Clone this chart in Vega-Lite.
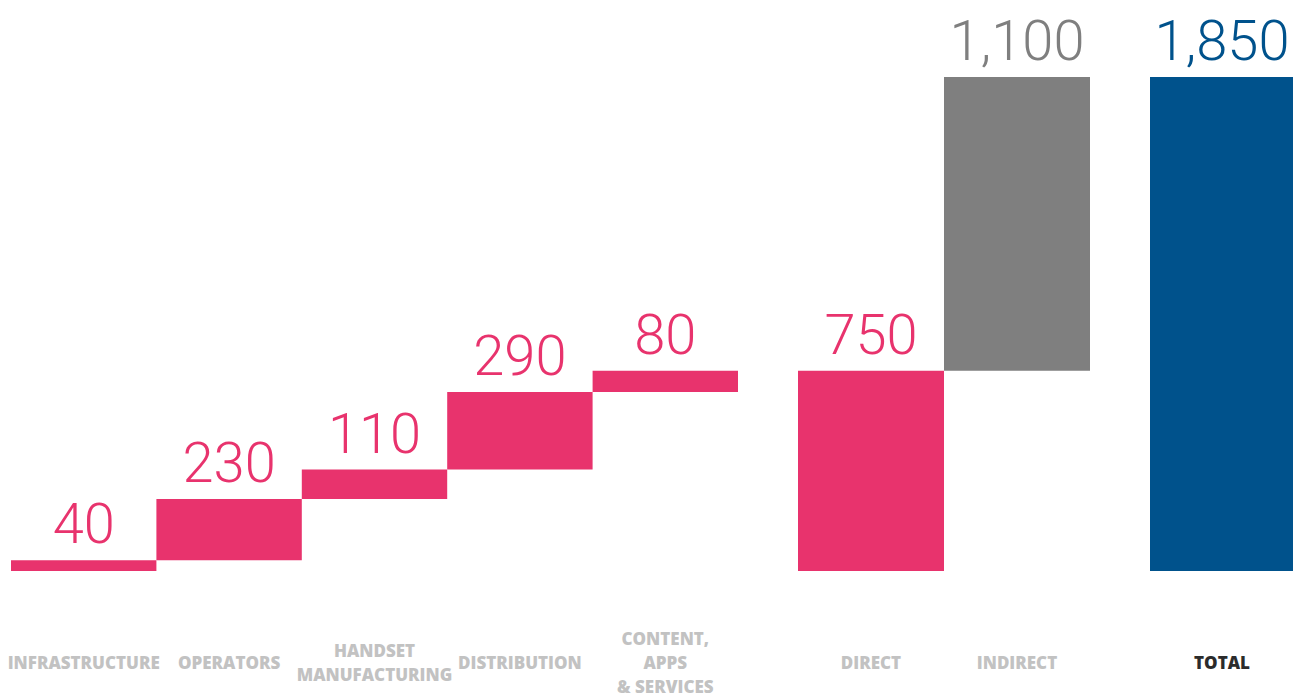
{
  "$schema": "https://vega.github.io/schema/vega-lite/v6.json",
  "padding": {"left": 7, "top": 0, "right": 0, "bottom": 0},
  "background": "white",
  "data": {
    "values": [
      {"category": "INFRASTRUCTURE", "start": 0, "end": 40, "value": 40, "kind": "direct", "group": "breakdown"},
      {"category": "OPERATORS", "start": 40, "end": 270, "value": 230, "kind": "direct", "group": "breakdown"},
      {"category": "HANDSET MANUFACTURING", "start": 270, "end": 380, "value": 110, "kind": "direct", "group": "breakdown"},
      {"category": "DISTRIBUTION", "start": 380, "end": 670, "value": 290, "kind": "direct", "group": "breakdown"},
      {"category": "CONTENT, APPS & SERVICES", "start": 670, "end": 750, "value": 80, "kind": "direct", "group": "breakdown"},
      {"category": "DIRECT", "start": 0, "end": 750, "value": 750, "kind": "direct", "group": "split"},
      {"category": "INDIRECT", "start": 750, "end": 1850, "value": 1100, "kind": "indirect", "group": "split"},
      {"category": "TOTAL", "start": 0, "end": 1850, "value": 1850, "kind": "total", "group": "total"}
    ]
  },
  "config": {
    "view": {"stroke": null},
    "concat": {"spacing": 60},
    "axisX": {
      "domain": false,
      "ticks": false,
      "tickSize": 0,
      "grid": false,
      "title": null,
      "labelAngle": 0,
      "labelFont": "Open Sans",
      "labelFontWeight": 800,
      "labelFontSize": 17,
      "labelBaseline": "middle",
      "labelPadding": {"condition": [{"test": "datum.label == 'CONTENT, APPS & SERVICES'", "value": 68}, {"test": "datum.label == 'HANDSET MANUFACTURING'", "value": 80}], "value": 92},
      "labelLineHeight": 24,
      "labelLimit": 300,
      "labelColor": {"condition": {"test": "datum.label == 'TOTAL'", "value": "#2b2b2b"}, "value": "#c2c2c2"},
      "labelExpr": "datum.label == 'CONTENT, APPS & SERVICES' ? ['CONTENT,', 'APPS', '& SERVICES'] : datum.label == 'HANDSET MANUFACTURING' ? ['HANDSET', 'MANUFACTURING'] : datum.label"
    }
  },
  "hconcat": [
    {
      "width": 727,
      "height": 571,
      "transform": [{"filter": "datum.group == 'breakdown'"}],
      "encoding": {
        "x": {"field": "category", "type": "nominal", "sort": null, "scale": {"paddingInner": 0, "paddingOuter": 0}},
        "color": {"field": "kind", "type": "nominal", "legend": null, "scale": {"domain": ["direct", "indirect", "total"], "range": ["#e8336d", "#7f7f7f", "#00528c"]}}
      },
      "layer": [
        {"mark": {"type": "bar"}, "encoding": {"y": {"field": "start", "type": "quantitative", "scale": {"domain": [0, 2138], "nice": false}, "axis": null}, "y2": {"field": "end"}}},
        {"mark": {"type": "text", "font": "Roboto", "fontWeight": 300, "fontSize": 56, "baseline": "alphabetic", "dy": -17}, "encoding": {"y": {"field": "end", "type": "quantitative", "scale": {"domain": [0, 2138], "nice": false}, "axis": null}, "text": {"field": "value", "type": "quantitative", "format": ","}}}
      ]
    },
    {
      "width": 292,
      "height": 571,
      "transform": [{"filter": "datum.group == 'split'"}],
      "encoding": {
        "x": {"field": "category", "type": "nominal", "sort": null, "scale": {"paddingInner": 0, "paddingOuter": 0}},
        "color": {"field": "kind", "type": "nominal", "legend": null, "scale": {"domain": ["direct", "indirect", "total"], "range": ["#e8336d", "#7f7f7f", "#00528c"]}}
      },
      "layer": [
        {"mark": {"type": "bar"}, "encoding": {"y": {"field": "start", "type": "quantitative", "scale": {"domain": [0, 2138], "nice": false}, "axis": null}, "y2": {"field": "end"}}},
        {"mark": {"type": "text", "font": "Roboto", "fontWeight": 300, "fontSize": 56, "baseline": "alphabetic", "dy": -17}, "encoding": {"y": {"field": "end", "type": "quantitative", "scale": {"domain": [0, 2138], "nice": false}, "axis": null}, "text": {"field": "value", "type": "quantitative", "format": ","}}}
      ]
    },
    {
      "width": 144,
      "height": 571,
      "transform": [{"filter": "datum.group == 'total'"}],
      "encoding": {
        "x": {"field": "category", "type": "nominal", "sort": null, "scale": {"paddingInner": 0, "paddingOuter": 0}},
        "color": {"field": "kind", "type": "nominal", "legend": null, "scale": {"domain": ["direct", "indirect", "total"], "range": ["#e8336d", "#7f7f7f", "#00528c"]}}
      },
      "layer": [
        {"mark": {"type": "bar"}, "encoding": {"y": {"field": "start", "type": "quantitative", "scale": {"domain": [0, 2138], "nice": false}, "axis": null}, "y2": {"field": "end"}}},
        {"mark": {"type": "text", "font": "Roboto", "fontWeight": 300, "fontSize": 56, "baseline": "alphabetic", "dy": -17}, "encoding": {"y": {"field": "end", "type": "quantitative", "scale": {"domain": [0, 2138], "nice": false}, "axis": null}, "text": {"field": "value", "type": "quantitative", "format": ","}}}
      ]
    }
  ]
}
